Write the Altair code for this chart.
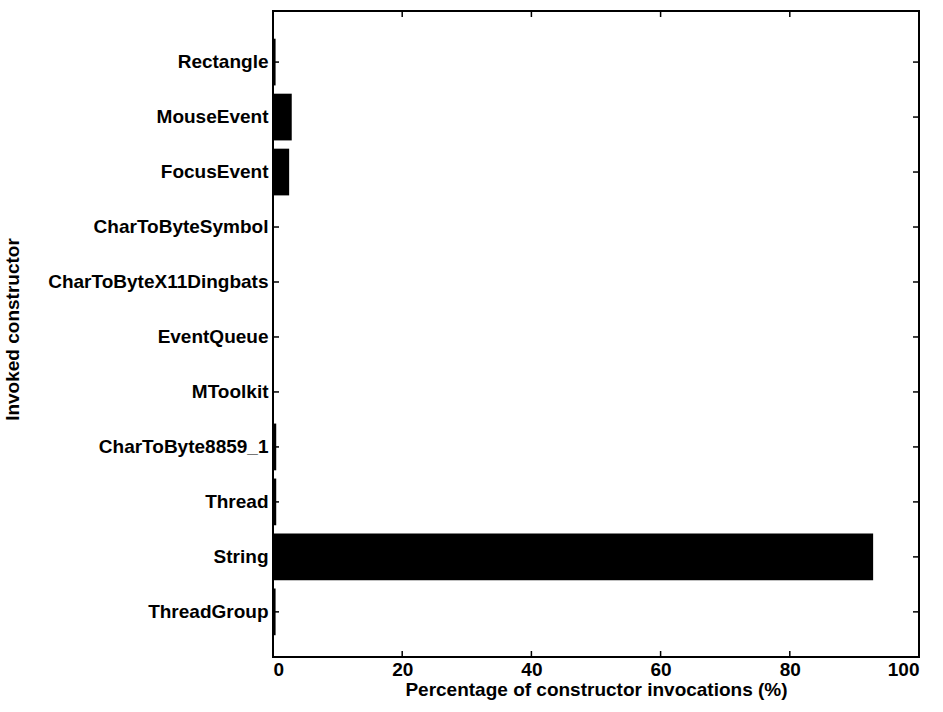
import altair as alt
import pandas as pd

# Constructors, listed top to bottom, and their share of all invocations (%)
constructors = [
    "Rectangle", "MouseEvent", "FocusEvent", "CharToByteSymbol",
    "CharToByteX11Dingbats", "EventQueue", "MToolkit", "CharToByte8859_1",
    "Thread", "String", "ThreadGroup",
]
percentages = [0.4, 2.9, 2.5, 0.05, 0.05, 0.05, 0.05, 0.5, 0.5, 92.9, 0.4]
x_ticks = [0, 20, 40, 60, 80, 100]

W, H = 646, 646
TICK = 6
FONT = "Liberation Sans"

bars_df = pd.DataFrame({"cls": constructors, "pct": percentages})
xt_df = pd.DataFrame({"t": x_ticks})
yt_df = pd.DataFrame({"cls": constructors})

x_scale = alt.Scale(domain=[0, 100], nice=False, zero=True)
y_scale = alt.Scale(domain=constructors, paddingInner=0.15, paddingOuter=0.45, align=0.56)

bars = alt.Chart(bars_df).mark_bar(color="black").encode(
    x=alt.X("pct:Q", scale=x_scale,
            axis=alt.Axis(values=x_ticks, title="Percentage of constructor invocations (%)",
                          ticks=False, domain=False, grid=False, labelPadding=3,
                          titlePadding=1)),
    y=alt.Y("cls:N", scale=y_scale,
            axis=alt.Axis(title="Invoked constructor", ticks=False, domain=False,
                          grid=False, labelPadding=5, labelLimit=400,
                          titleX=-251, titleY=H / 2 - 5)),
)

# Inward-pointing tick marks on all four sides of the frame
xb = alt.Chart(xt_df).mark_rule(color="black", strokeWidth=1.5).encode(
    x=alt.X("t:Q", scale=x_scale), y=alt.value(H), y2=alt.value(H - TICK))
xt = alt.Chart(xt_df).mark_rule(color="black", strokeWidth=1.5).encode(
    x=alt.X("t:Q", scale=x_scale), y=alt.value(0), y2=alt.value(TICK))
yl = alt.Chart(yt_df).mark_rule(color="black", strokeWidth=1.5).encode(
    y=alt.Y("cls:N", scale=y_scale),
    x=alt.value(0), x2=alt.value(TICK))
yr = alt.Chart(yt_df).mark_rule(color="black", strokeWidth=1.5).encode(
    y=alt.Y("cls:N", scale=y_scale),
    x=alt.value(W - TICK), x2=alt.value(W))

chart = (
    alt.layer(bars, xb, xt, yl, yr)
    .properties(width=W, height=H, background="white",
                autosize=alt.AutoSizeParams(type="none"),
                padding={"left": 273, "top": 11, "right": 24, "bottom": 55})
    .configure_view(stroke="black", strokeWidth=2)
    .configure_axis(labelFont=FONT, titleFont=FONT, labelFontSize=19, titleFontSize=19,
                    labelFontWeight="bold", titleFontWeight="bold",
                    labelColor="black", titleColor="black")
)

chart.save("out.html", embed_options={"renderer": "svg", "actions": False})
